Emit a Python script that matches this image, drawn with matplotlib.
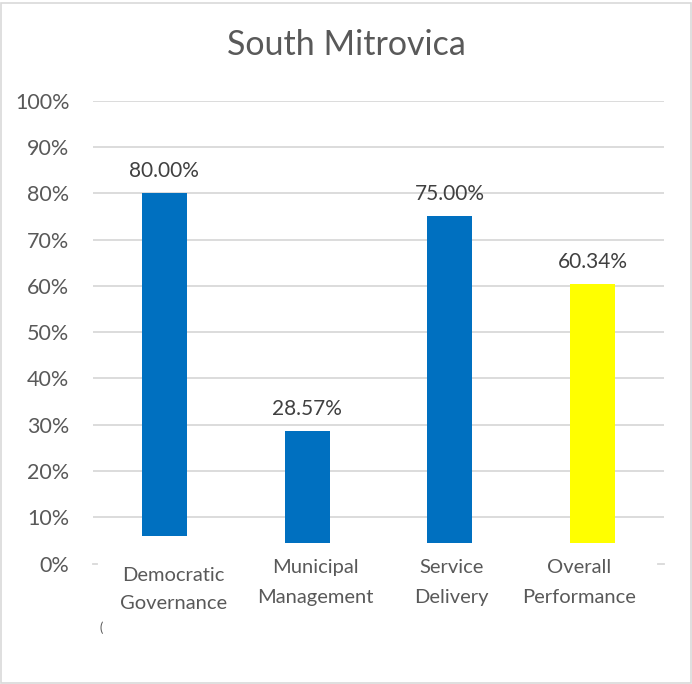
import matplotlib.pyplot as plt
from matplotlib.transforms import ScaledTranslation
from matplotlib.patches import Rectangle
import numpy as np

plt.rcParams['font.family'] = ['Lato', 'DejaVu Sans']

title = 'South Mitrovica'
categories = ['Democratic\nGovernance', 'Municipal\nManagement', 'Service\nDelivery', 'Overall\nPerformance']
values = [0.80, 0.2857, 0.75, 0.6034]
bases = [0.06, 0.045, 0.045, 0.045]
colors = ['#0070C0', '#0070C0', '#0070C0', '#FFFF00']
yticks = [0, 0.1, 0.2, 0.3, 0.4, 0.5, 0.6, 0.7, 0.8, 0.9, 1.0]

fig = plt.figure(figsize=(6.92, 6.84), dpi=100)
fig.patches.append(Rectangle((0.002, 0.002), 0.996, 0.994, transform=fig.transFigure,
                             fill=False, edgecolor='#d9d9d9', linewidth=1.2))
ax = fig.add_axes([0.1344, 0.1759, 0.8251, 0.6769])

x = np.arange(len(categories))
heights = [v - b for v, b in zip(values, bases)]
ax.bar(x, heights, bottom=bases, width=0.315, color=colors, zorder=3)

for xi, v in zip(x, values):
    ax.text(xi, v + 0.036, f'{v*100:.2f}%', ha='center', va='baseline',
            fontsize=15, color='#404040')

# gridlines (no line at 0%, just short stubs at the ends)
for t in yticks[1:]:
    ax.axhline(t, color='#d9d9d9', linewidth=1.3, zorder=1)
ax.plot([-0.5, -0.47], [0, 0], color='#d9d9d9', linewidth=1.3, clip_on=False)
ax.plot([3.455, 3.5], [0, 0], color='#d9d9d9', linewidth=1.3, clip_on=False)

ax.set_xlim(-0.5, 3.5)
ax.set_ylim(0, 1.0)
ax.set_yticks(yticks)
ax.set_yticklabels([f'{int(t*100)}%' for t in yticks], fontsize=15.5, color='#595959')
ax.tick_params(axis='y', length=0, pad=17)
ax.set_xticks([])

# category names under the bars, nudged a little each
shifts = [(6.5, -2.5), (5.8, 3.5), (1.4, 3.5), (-9.4, 3.5)]
spacing = [1.77, 1.93, 1.93, 1.93]
for xi, name, (dx, dy), ls in zip(x, categories, shifts, spacing):
    tr = ax.get_xaxis_transform() + ScaledTranslation(dx / 72, dy / 72, fig.dpi_scale_trans)
    ax.text(xi, 0, name, transform=tr, ha='center', va='top', multialignment='center',
            fontsize=14.5, color='#595959', linespacing=ls)

for s in ax.spines.values():
    s.set_visible(False)

fig.text(0.5, 0.934, title, ha='center', va='center', fontsize=24.5, color='#595959')
fig.text(0.146, 0.083, '(', ha='center', va='center', fontsize=9, color='#595959')

fig.savefig('out.png', dpi=100)
